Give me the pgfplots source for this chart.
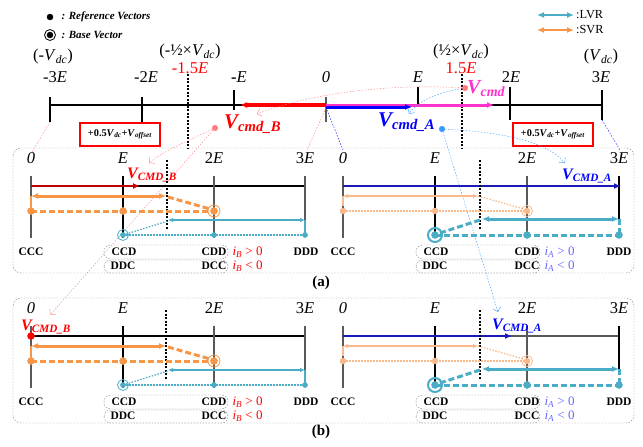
\documentclass[border=0pt]{standalone}
\usepackage{pgfplots}
\pgfplotsset{compat=1.18}
\usepackage{fontspec}
\setmainfont{Liberation Serif}
\usetikzlibrary{arrows.meta}
\definecolor{org}{HTML}{F79646}
\definecolor{lorg}{HTML}{F9B98A}
\definecolor{tea}{HTML}{4BACC6}
\definecolor{dblue}{HTML}{1A1AB8}
\definecolor{vblue}{HTML}{0000FF}
\definecolor{dred}{HTML}{C00000}
\definecolor{mag}{HTML}{FF33CC}
\definecolor{pinkd}{HTML}{FF7C80}
\definecolor{lblue}{HTML}{3399FF}
\definecolor{iacol}{HTML}{6666FF}
\definecolor{gline}{HTML}{595959}
\newcommand{\fs}[1]{\fontsize{#1}{#1}\selectfont}
\tikzset{
  thk/.style={line width=3pt},
  thn/.style={line width=1.2pt},
  dsh/.style={dash pattern=on 6pt off 3pt},
  dtt/.style={dash pattern=on 1.5pt off 1.5pt},
  blk/.style={dash pattern=on 2pt off 1.5pt,line width=1.6pt,black},
  ar/.style={-{Latex[length=7pt,width=6pt]}},
  dar/.style={{Latex[length=7pt,width=6pt]}-{Latex[length=7pt,width=6pt]}},
  tar/.style={{Latex[length=5pt,width=4.5pt]}-{Latex[length=5pt,width=4.5pt]}},
}
\newcommand{\TL}{\fs{16.5}}
\newcommand{\PL}{\fs{16.5}}
\newcommand{\SL}{\fs{11.5}\bfseries}
\begin{document}
\begin{tikzpicture}
\begin{axis}[x=1pt,y=1pt,y dir=reverse,xmin=0,xmax=643,ymin=0,ymax=447,
  hide axis,clip=false]
\path (axis cs:0,0) (axis cs:643,447);
% ---------- legends
\addplot[only marks,mark=*,mark size=3pt,black] coordinates {(50,17)(50,35)};
\addplot[only marks,mark=o,mark size=5.5pt,black,thick] coordinates {(50,35)};
\node[anchor=west] at (axis cs:58,17) {\fs{11}\bfseries\itshape : Reference Vectors};
\node[anchor=west] at (axis cs:58,35) {\fs{11}\bfseries\itshape : Base Vector};
\addplot[tea,line width=2.5pt,dar] coordinates {(537,15)(574,15)};
\addplot[org,line width=2.5pt,dar] coordinates {(537,30)(574,30)};
\node[anchor=west,inner sep=1pt] at (axis cs:575,15) {\fs{12.3}:LVR};
\node[anchor=west,inner sep=1pt] at (axis cs:575,30) {\fs{12.3}:SVR};
% ---------- top number line
\addplot[black,line width=1.2pt] coordinates {(50,105)(602,105)};
\addplot[black,line width=1.2pt] coordinates {(50,97)(50,122)};
\addplot[black,line width=1.2pt] coordinates {(142,97)(142,122)};
\addplot[black,line width=1.2pt] coordinates {(234,90)(234,110)};
\addplot[gline,line width=2pt] coordinates {(326,97)(326,122)};
\addplot[black,line width=1.2pt] coordinates {(418,87)(418,106)};
\addplot[black,line width=1.2pt] coordinates {(510,87)(510,120)};
\addplot[black,line width=1.2pt] coordinates {(602,90)(602,120)};
\addplot[blk] coordinates {(188,74)(188,148)};
\addplot[blk] coordinates {(462,74)(462,148)};
\node at (axis cs:53,57) {\TL(-\textit{V}\textsubscript{\textit{dc}})};
\node at (axis cs:55,77) {\TL-3\textit{E}};
\node at (axis cs:146,77) {\TL-2\textit{E}};
\node at (axis cs:239,77) {\TL\textbf{-}\textit{E}};
\node at (axis cs:326,77) {\TL\textit{0}};
\node at (axis cs:418,77) {\TL\textit{E}};
\node at (axis cs:511,77) {\TL2\textit{E}};
\node at (axis cs:601,77) {\TL3\textit{E}};
\node at (axis cs:601,57) {\TL(\textit{V}\textsubscript{\textit{dc}})};
\node at (axis cs:190,52) {\TL(-½×\textit{V}\textsubscript{\textit{dc}})};
\node[text=red] at (axis cs:190,68) {\TL-1.5\textit{E}};
\node at (axis cs:461,52) {\TL(½×\textit{V}\textsubscript{\textit{dc}})};
\node[text=red] at (axis cs:461,68) {\TL1.5\textit{E}};
% vectors on top line
\addplot[mag,line width=3pt,ar] coordinates {(326,105)(494,105)};
\addplot[vblue,line width=3pt,ar] coordinates {(326,107)(412,107)};
\addplot[red,line width=3.5pt,ar] coordinates {(326,105)(240,105)};
\node[anchor=base west,inner sep=0pt,text=mag] at (axis cs:467,93) {\fs{20}\bfseries\itshape V\textsubscript{cmd}};
\node[anchor=base west,inner sep=0pt,text=red] at (axis cs:224,128) {\fs{21}\bfseries\itshape V\textsubscript{cmd\_B}};
\node[anchor=base west,inner sep=0pt,text=vblue] at (axis cs:378,126) {\fs{21}\bfseries\itshape V\textsubscript{cmd\_A}};
% red boxes
\draw[red,line width=2pt] (axis cs:80,123) rectangle (axis cs:160,146);
\draw[red,line width=2pt] (axis cs:513,123) rectangle (axis cs:593,146);
\node at (axis cs:120,134.5) {\fs{10.3}\bfseries +0.5\textit{V}\textsubscript{\textit{dc}}+\textit{V}\textsubscript{\textit{offset}}};
\node at (axis cs:553,134.5) {\fs{10.3}\bfseries +0.5\textit{V}\textsubscript{\textit{dc}}+\textit{V}\textsubscript{\textit{offset}}};
% connectors
\draw[pinkd,dtt,thin] (axis cs:50,122) -- (axis cs:32,152);
\draw[pinkd,dtt,thin] (axis cs:326,108) -- (axis cs:307,150);
\draw[vblue,dtt,thin] (axis cs:327,110) -- (axis cs:343,150);
\draw[vblue,dtt,thin] (axis cs:602,120) -- (axis cs:620,150);
\draw[pinkd,dtt,thin,-{Straight Barb[length=4pt]}] (axis cs:465,88) .. controls (axis cs:400,84) and (axis cs:320,90) .. (axis cs:257,114);
\draw[lblue,dtt,thin,-{Straight Barb[length=4pt]}] (axis cs:465,88) .. controls (axis cs:440,92) and (axis cs:418,100) .. (axis cs:409,114);
\draw[pinkd,dtt,thin,-{Straight Barb[length=4pt]}] (axis cs:215,128) .. controls (axis cs:190,140) and (axis cs:165,150) .. (axis cs:149,163);
\draw[pinkd,dtt,thin,-{Straight Barb[length=4pt]}] (axis cs:215,128) -- (axis cs:50,315);
\draw[lblue,dtt,thin,-{Straight Barb[length=4pt]}] (axis cs:442,129) .. controls (axis cs:500,132) and (axis cs:545,140) .. (axis cs:565,163);
\draw[lblue,dtt,thin,-{Straight Barb[length=4pt]}] (axis cs:442,129) -- (axis cs:498,312);
\addplot[only marks,mark=*,mark size=2.8pt,color=pinkd] coordinates {(465,88)(215,128)};
\addplot[only marks,mark=*,mark size=2.8pt,color=lblue] coordinates {(442,129)};
% ---------- frames
\draw[gray,dtt,thin,rounded corners=8pt] (axis cs:13,148) rectangle (axis cs:634,273);
\draw[gray,dtt,thin,rounded corners=8pt] (axis cs:13,298) rectangle (axis cs:634,423);
\node at (axis cs:321,283) {\fs{15}\bfseries (a)};
\node at (axis cs:321,432) {\fs{15}\bfseries (b)};
% ================= PANEL (a) LEFT (B)
\node at (axis cs:31,158) {\PL\textit{0}};
\node at (axis cs:123,158) {\PL\textit{E}};
\node at (axis cs:214,158) {\PL2\textit{E}};
\node at (axis cs:305,158) {\PL3\textit{E}};
\addplot[black,thn] coordinates {(31,186)(305,186)};
\addplot[gline,line width=1.6pt] coordinates {(31,176)(31,238)};
\addplot[black,thn] coordinates {(123,176)(123,238)};
\addplot[gline,line width=1.6pt] coordinates {(214,176)(214,238)};
\addplot[gline,line width=1.6pt] coordinates {(305,176)(305,220)};
\addplot[dred,line width=1.6pt,ar] coordinates {(31,186)(140,186)};
\node[anchor=base west,inner sep=0pt,text=red] at (axis cs:127,178) {\fs{16}\bfseries\itshape V\textsubscript{CMD\_B}};
\addplot[blk] coordinates {(167,160)(167,230)};
\addplot[org,thk,dar] coordinates {(31,196)(166,196)};
\addplot[org,line width=1.5pt] coordinates {(31,196)(31,208)};
\addplot[org,thk,dsh] coordinates {(168,197)(210,209)};
\addplot[org,thk,dsh] coordinates {(31,211)(214,211)};
\addplot[tea,thn,tar] coordinates {(168,220)(305,220)};
\addplot[tea,thn,dtt] coordinates {(123,235)(168,221)};
\addplot[tea,thn,dtt] coordinates {(123,235)(305,235)};
\addplot[tea,thn] coordinates {(305,220)(305,235)};
\addplot[only marks,mark=*,mark size=3.5pt,org] coordinates {(31,211)(123,211)(214,211)};
\addplot[only marks,mark=o,mark size=6pt,org,thick] coordinates {(214,211)};
\addplot[only marks,mark=*,mark size=2.6pt,tea] coordinates {(123,235)(214,235)(305,235)};
\addplot[only marks,mark=o,mark size=5.5pt,tea,thick] coordinates {(123,235)};
% ================= PANEL (a) RIGHT (A)
\node at (axis cs:343,158) {\PL\textit{0}};
\node at (axis cs:435,158) {\PL\textit{E}};
\node at (axis cs:527,158) {\PL2\textit{E}};
\node at (axis cs:619,158) {\PL3\textit{E}};
\addplot[black,thn] coordinates {(343,186)(619,186)};
\addplot[gline,line width=1.6pt] coordinates {(343,176)(343,238)};
\addplot[black,thn] coordinates {(435,176)(435,238)};
\addplot[gline,line width=1.6pt] coordinates {(527,176)(527,238)};
\addplot[black,line width=1.4pt] coordinates {(619,176)(619,219)};
\addplot[dblue,line width=1.6pt,ar] coordinates {(343,186)(621,186)};
\node[anchor=base west,inner sep=0pt,text=vblue] at (axis cs:562,179) {\fs{16}\bfseries\itshape V\textsubscript{CMD\_A}};
\addplot[blk] coordinates {(480,160)(480,230)};
\addplot[lorg,thn,tar] coordinates {(343,196)(478,196)};
\addplot[lorg,thn] coordinates {(343,196)(343,206)};
\addplot[lorg,thn,dtt] coordinates {(478,196)(524,209)};
\addplot[lorg,thn,dtt] coordinates {(343,211)(527,211)};
\addplot[tea,thk,dar] coordinates {(482,219)(619,219)};
\addplot[tea,thk,dsh] coordinates {(440,233)(480,220)};
\addplot[tea,thk,dsh] coordinates {(435,235)(619,235)};
\addplot[tea,thk,dsh] coordinates {(619,219)(619,235)};
\addplot[only marks,mark=*,mark size=3pt,lorg] coordinates {(343,211)(435,211)(527,211)};
\addplot[only marks,mark=o,mark size=5.5pt,lorg,thick] coordinates {(527,211)};
\addplot[only marks,mark=*,mark size=3.5pt,tea] coordinates {(435,235)(527,235)(619,235)};
\addplot[only marks,mark=o,mark size=7pt,tea,line width=2pt] coordinates {(435,235)};
% ================= PANEL (b) LEFT (B)
\node at (axis cs:31,308) {\PL\textit{0}};
\node at (axis cs:123,308) {\PL\textit{E}};
\node at (axis cs:214,308) {\PL2\textit{E}};
\node at (axis cs:305,308) {\PL3\textit{E}};
\addplot[black,thn] coordinates {(31,336)(305,336)};
\addplot[gline,line width=1.6pt] coordinates {(31,326)(31,388)};
\addplot[black,thn] coordinates {(123,326)(123,388)};
\addplot[gline,line width=1.6pt] coordinates {(214,326)(214,388)};
\addplot[gline,line width=1.6pt] coordinates {(305,326)(305,370)};
\node[anchor=base west,inner sep=0pt,text=red] at (axis cs:21,330) {\fs{16}\bfseries\itshape V\textsubscript{CMD\_B}};
\addplot[blk] coordinates {(166,310)(166,380)};
\addplot[org,thk,dar] coordinates {(31,346)(166,346)};
\addplot[org,line width=1.5pt] coordinates {(31,346)(31,358)};
\addplot[org,thk,dsh] coordinates {(168,347)(210,359)};
\addplot[org,thk,dsh] coordinates {(31,361)(214,361)};
\addplot[tea,thn,tar] coordinates {(168,370)(305,370)};
\addplot[tea,thn,dtt] coordinates {(123,385)(168,371)};
\addplot[tea,thn,dtt] coordinates {(123,385)(305,385)};
\addplot[tea,thn] coordinates {(305,370)(305,385)};
\addplot[only marks,mark=*,mark size=3.5pt,org] coordinates {(31,361)(123,361)(214,361)};
\addplot[only marks,mark=o,mark size=6pt,org,thick] coordinates {(214,361)};
\addplot[only marks,mark=*,mark size=2.6pt,tea] coordinates {(123,385)(214,385)(305,385)};
\addplot[only marks,mark=o,mark size=5.5pt,tea,thick] coordinates {(123,385)};
\addplot[only marks,mark=*,mark size=3.5pt,red] coordinates {(31,336)};
% ================= PANEL (b) RIGHT (A)
\node at (axis cs:343,308) {\PL\textit{0}};
\node at (axis cs:435,308) {\PL\textit{E}};
\node at (axis cs:527,308) {\PL2\textit{E}};
\node at (axis cs:619,308) {\PL3\textit{E}};
\addplot[gline,thn] coordinates {(343,336)(619,336)};
\addplot[gline,line width=1.6pt] coordinates {(343,326)(343,388)};
\addplot[black,thn] coordinates {(435,326)(435,388)};
\addplot[gline,line width=1.6pt] coordinates {(527,326)(527,388)};
\addplot[black,line width=1.4pt] coordinates {(619,326)(619,369)};
\addplot[dblue,line width=1.6pt,ar] coordinates {(343,336)(512,336)};
\node[anchor=base west,inner sep=0pt,text=vblue] at (axis cs:492,329) {\fs{16}\bfseries\itshape V\textsubscript{CMD\_A}};
\addplot[blk] coordinates {(480,310)(480,380)};
\addplot[lorg,thn,tar] coordinates {(343,346)(478,346)};
\addplot[lorg,thn] coordinates {(343,346)(343,356)};
\addplot[lorg,thn,dtt] coordinates {(478,346)(524,359)};
\addplot[lorg,thn,dtt] coordinates {(343,361)(527,361)};
\addplot[tea,thk,dar] coordinates {(482,369)(619,369)};
\addplot[tea,thk,dsh] coordinates {(440,383)(480,370)};
\addplot[tea,thk,dsh] coordinates {(435,385)(619,385)};
\addplot[tea,thk,dsh] coordinates {(619,369)(619,385)};
\addplot[only marks,mark=*,mark size=3pt,lorg] coordinates {(343,361)(435,361)(527,361)};
\addplot[only marks,mark=o,mark size=5.5pt,lorg,thick] coordinates {(527,361)};
\addplot[only marks,mark=*,mark size=3.5pt,tea] coordinates {(435,385)(527,385)(619,385)};
\addplot[only marks,mark=o,mark size=7pt,tea,line width=2pt] coordinates {(435,385)};
% ================= state labels
\node at (axis cs:31,252) {\SL CCC};
\node at (axis cs:124,252) {\SL CCD};
\node at (axis cs:214,252) {\SL CDD};
\node at (axis cs:306,252) {\SL DDD};
\node at (axis cs:123,266) {\SL DDC};
\node at (axis cs:214,266) {\SL DCC};
\draw[gray,dtt,thin,rounded corners=6.5pt] (axis cs:104,245) rectangle (axis cs:228,259);
\draw[gray,dtt,thin,rounded corners=6.5pt] (axis cs:104,260) rectangle (axis cs:228,273);
\node[anchor=west,text=red] at (axis cs:229,252) {\fs{13}\textit{i}\textsubscript{\textit{B}} > 0};
\node[anchor=west,text=red] at (axis cs:229,266) {\fs{13}\textit{i}\textsubscript{\textit{B}} < 0};
\node at (axis cs:343,252) {\SL CCC};
\node at (axis cs:436,252) {\SL CCD};
\node at (axis cs:527,252) {\SL CDD};
\node at (axis cs:619,252) {\SL DDD};
\node at (axis cs:435,266) {\SL DDC};
\node at (axis cs:527,266) {\SL DCC};
\draw[gray,dtt,thin,rounded corners=6.5pt] (axis cs:416,245) rectangle (axis cs:540,259);
\draw[gray,dtt,thin,rounded corners=6.5pt] (axis cs:416,260) rectangle (axis cs:540,273);
\node[anchor=west,text=iacol] at (axis cs:541,252) {\fs{13}\textit{i}\textsubscript{\textit{A}} > 0};
\node[anchor=west,text=iacol] at (axis cs:541,266) {\fs{13}\textit{i}\textsubscript{\textit{A}} < 0};
\node at (axis cs:31,402) {\SL CCC};
\node at (axis cs:124,402) {\SL CCD};
\node at (axis cs:214,402) {\SL CDD};
\node at (axis cs:306,402) {\SL DDD};
\node at (axis cs:123,416) {\SL DDC};
\node at (axis cs:214,416) {\SL DCC};
\draw[gray,dtt,thin,rounded corners=6.5pt] (axis cs:104,395) rectangle (axis cs:228,409);
\draw[gray,dtt,thin,rounded corners=6.5pt] (axis cs:104,410) rectangle (axis cs:228,423);
\node[anchor=west,text=red] at (axis cs:229,402) {\fs{13}\textit{i}\textsubscript{\textit{B}} > 0};
\node[anchor=west,text=red] at (axis cs:229,416) {\fs{13}\textit{i}\textsubscript{\textit{B}} < 0};
\node at (axis cs:343,402) {\SL CCC};
\node at (axis cs:436,402) {\SL CCD};
\node at (axis cs:527,402) {\SL CDD};
\node at (axis cs:619,402) {\SL DDD};
\node at (axis cs:435,416) {\SL DDC};
\node at (axis cs:527,416) {\SL DCC};
\draw[gray,dtt,thin,rounded corners=6.5pt] (axis cs:416,395) rectangle (axis cs:540,409);
\draw[gray,dtt,thin,rounded corners=6.5pt] (axis cs:416,410) rectangle (axis cs:540,423);
\node[anchor=west,text=iacol] at (axis cs:541,402) {\fs{13}\textit{i}\textsubscript{\textit{A}} > 0};
\node[anchor=west,text=iacol] at (axis cs:541,416) {\fs{13}\textit{i}\textsubscript{\textit{A}} < 0};
\end{axis}
\end{tikzpicture}
\end{document}
